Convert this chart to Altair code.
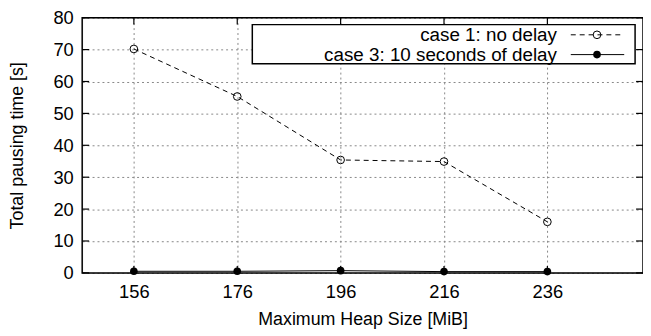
import altair as alt
import pandas as pd

heap = [156, 176, 196, 216, 236]
case1 = [70.2, 55.3, 35.4, 34.9, 16.0]
case3 = [0.5, 0.5, 0.7, 0.4, 0.4]
legend_labels = ["case 1: no delay", "case 3: 10 seconds of delay"]
y_ticks = [0, 10, 20, 30, 40, 50, 60, 70, 80]
x_title = "Maximum Heap Size [MiB]"
y_title = "Total pausing time [s]"

W, H = 567, 258
FONT = "Liberation Sans"

df = pd.DataFrame({"heap": heap, "case1": case1, "case3": case3})
xt = pd.DataFrame({"t": heap})
yt = pd.DataFrame({"t": y_ticks})
one = pd.DataFrame({"a": [0]})

xscale = alt.Scale(domain=[146, 254.5], nice=False, zero=False)
yscale = alt.Scale(domain=[0, 80], nice=False)

xaxis = alt.Axis(values=heap, grid=True, gridDash=[2, 3], gridColor="#888888",
                 gridWidth=1, domain=False, ticks=False, tickSize=0,
                 labelOverlap=False,
                 labelFontSize=18.5, labelFont=FONT, labelColor="black",
                 labelPadding=10, title=x_title, titleFontSize=18,
                 titleFont=FONT, titleFontWeight="normal", titleColor="black",
                 titlePadding=10)
yaxis = alt.Axis(values=y_ticks, grid=True, gridDash=[2, 3], gridColor="#888888",
                 gridWidth=1, domain=False, ticks=False, tickSize=0,
                 labelOverlap=False,
                 labelFontSize=18.5, labelFont=FONT, labelColor="black",
                 labelPadding=9, title=y_title, titleFontSize=18,
                 titleFont=FONT, titleFontWeight="normal", titleColor="black",
                 titlePadding=27)


def X(f):
    return alt.X(f, scale=xscale, axis=xaxis, title=x_title)


def Y(f):
    return alt.Y(f, scale=yscale, axis=yaxis, title=y_title)


base = alt.Chart(df)

line1 = base.mark_line(color="black", strokeWidth=1, strokeDash=[5, 4]).encode(
    x=X("heap:Q"), y=Y("case1:Q"))
pts1 = base.mark_point(shape="circle", filled=False, color="black", size=60,
                       strokeWidth=1, opacity=1).encode(
    x=X("heap:Q"), y=Y("case1:Q"))
line3 = base.mark_line(color="black", strokeWidth=1).encode(
    x=X("heap:Q"), y=Y("case3:Q"))
pts3 = base.mark_point(shape="circle", filled=True, color="black", size=60,
                       opacity=1).encode(
    x=X("heap:Q"), y=Y("case3:Q"))

tick_style = dict(color="black", strokeWidth=1.2)
tb = alt.Chart(xt).mark_rule(**tick_style).encode(
    x=X("t:Q"), y=alt.value(H), y2=alt.value(H - 7))
tt = alt.Chart(xt).mark_rule(**tick_style).encode(
    x=X("t:Q"), y=alt.value(0), y2=alt.value(7))
tl = alt.Chart(yt).mark_rule(**tick_style).encode(
    y=Y("t:Q"), x=alt.value(0), x2=alt.value(7))
tr = alt.Chart(yt).mark_rule(**tick_style).encode(
    y=Y("t:Q"), x=alt.value(W), x2=alt.value(W - 7))

# plot frame
frame = alt.Chart(one).mark_rect(fill="white", fillOpacity=0, stroke="black",
                                 strokeWidth=1.5).encode(
    x=alt.value(0), x2=alt.value(W), y=alt.value(0), y2=alt.value(H))

# legend box (gnuplot style: labels left, samples right)
lx1, lx2, ly1, ly2 = 172, 559, 7, 46.5
r1, r2 = 17.3, 37.3
box = alt.Chart(one).mark_rect(fill="white", stroke="black", strokeWidth=1.5).encode(
    x=alt.value(lx1), x2=alt.value(lx2), y=alt.value(ly1), y2=alt.value(ly2))
txt1 = alt.Chart(one).mark_text(align="right", baseline="middle", fontSize=19,
                                font=FONT, color="black").encode(
    x=alt.value(480), y=alt.value(r1 + 0.5), text=alt.value(legend_labels[0]))
txt2 = alt.Chart(one).mark_text(align="right", baseline="middle", fontSize=19,
                                font=FONT, color="black").encode(
    x=alt.value(480), y=alt.value(r2 + 0.5), text=alt.value(legend_labels[1]))
ls1 = alt.Chart(one).mark_rule(color="black", strokeWidth=1, strokeDash=[5, 4]).encode(
    x=alt.value(494), x2=alt.value(548), y=alt.value(r1))
ls2 = alt.Chart(one).mark_rule(color="black", strokeWidth=1).encode(
    x=alt.value(494), x2=alt.value(548), y=alt.value(r2))
lp1 = alt.Chart(one).mark_point(shape="circle", filled=False, color="black", size=60,
                                strokeWidth=1, opacity=1).encode(
    x=alt.value(520.5), y=alt.value(r1))
lp2 = alt.Chart(one).mark_point(shape="circle", filled=True, color="black", size=60,
                                opacity=1).encode(
    x=alt.value(520.5), y=alt.value(r2))

chart = alt.layer(
    line1, line3, pts1, pts3, tb, tt, tl, tr, frame,
    box, txt1, txt2, ls1, ls2, lp1, lp2,
).properties(
    width=W, height=H,
    autosize=alt.AutoSizeParams(type="none"),
    padding={"left": 75, "top": 8, "right": 0, "bottom": 62},
).configure_view(
    stroke="black", strokeWidth=1.5
).configure(background="white")

chart.save("out.html", embed_options={"renderer": "svg", "actions": False})
